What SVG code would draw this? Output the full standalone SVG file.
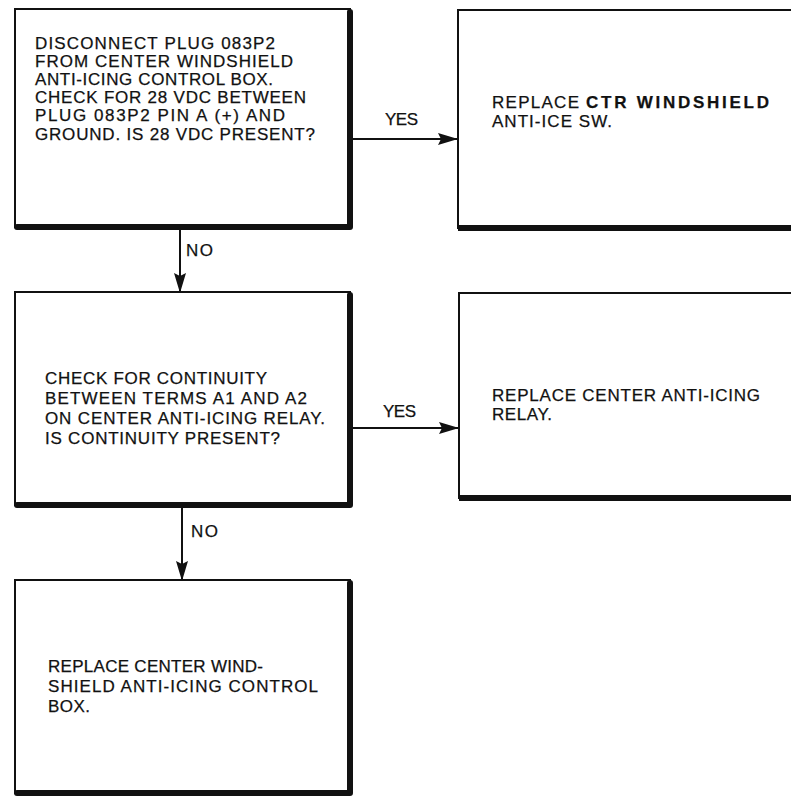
<svg xmlns="http://www.w3.org/2000/svg" width="791" height="798" viewBox="0 0 791 798">
<style>
.box{fill:#fff;stroke:#111;stroke-width:2}
.sh{fill:none;stroke:#111;stroke-width:6;stroke-linecap:round;stroke-linejoin:round}
.sh2{fill:none;stroke:#111;stroke-width:6;stroke-linecap:butt}
text{font-family:"Liberation Sans",Arial,sans-serif;font-size:17px;fill:#111;stroke:#111;stroke-width:0.25}
.b{font-weight:bold}
.ln{fill:none;stroke:#111;stroke-width:2}
</style>
<defs>
<marker id="ah" markerUnits="userSpaceOnUse" markerWidth="20" markerHeight="12" refX="19" refY="6" orient="auto">
<path d="M0,0 L20,6 L0,12 L3,6 Z" fill="#111"/>
</marker>
</defs>
<rect width="791" height="798" fill="#fff"/>
<g id="connectors">
<line class="ln" x1="352" y1="139" x2="457" y2="139" marker-end="url(#ah)"/>
<line class="ln" x1="180" y1="230" x2="180" y2="292" marker-end="url(#ah)"/>
<line class="ln" x1="352" y1="428" x2="458" y2="428" marker-end="url(#ah)"/>
<line class="ln" x1="182" y1="508" x2="182" y2="580" marker-end="url(#ah)"/>
<text x="385" y="125" textLength="33">YES</text>
<text x="186" y="256" textLength="27">NO</text>
<text x="383" y="417" textLength="33">YES</text>
<text x="191" y="537" textLength="27">NO</text>
</g>
<g id="n1">
<rect class="box" x="15" y="9" width="335" height="218"/>
<path class="sh" d="M350,12 L350,227 L17,227"/>
<text x="35" y="49" textLength="240">DISCONNECT PLUG 083P2</text>
<text x="35" y="67" textLength="258">FROM CENTER WINDSHIELD</text>
<text x="35" y="85" textLength="238">ANTI-ICING CONTROL BOX.</text>
<text x="35" y="103" textLength="271">CHECK FOR 28 VDC BETWEEN</text>
<text x="35" y="121" textLength="250">PLUG 083P2 PIN A (+) AND</text>
<text x="35" y="140" textLength="280">GROUND. IS 28 VDC PRESENT?</text>
</g>
<g id="n2">
<rect class="box" x="458" y="10" width="340" height="218"/>
<path class="sh2" d="M458,228 L791,228"/>
<text x="492" y="108" textLength="87">REPLACE</text>
<text x="586" y="108" class="b" textLength="183">CTR WINDSHIELD</text>
<text x="492" y="127" textLength="120">ANTI-ICE SW.</text>
</g>
<g id="n3">
<rect class="box" x="15" y="292" width="335" height="213"/>
<path class="sh" d="M350,295 L350,505 L17,505"/>
<text x="45" y="384" textLength="222">CHECK FOR CONTINUITY</text>
<text x="45" y="404" textLength="262">BETWEEN TERMS A1 AND A2</text>
<text x="45" y="424" textLength="280">ON CENTER ANTI-ICING RELAY.</text>
<text x="45" y="444" textLength="235">IS CONTINUITY PRESENT?</text>
</g>
<g id="n4">
<rect class="box" x="459" y="293" width="340" height="205"/>
<path class="sh2" d="M459,498 L791,498"/>
<text x="492" y="401" textLength="268">REPLACE CENTER ANTI-ICING</text>
<text x="492" y="420" textLength="60">RELAY.</text>
</g>
<g id="n5">
<rect class="box" x="15" y="580" width="335" height="213"/>
<path class="sh" d="M350,583 L350,793 L17,793"/>
<text x="48" y="672" textLength="215">REPLACE CENTER WIND-</text>
<text x="48" y="692" textLength="270">SHIELD ANTI-ICING CONTROL</text>
<text x="48" y="712" textLength="42">BOX.</text>
</g>
</svg>
